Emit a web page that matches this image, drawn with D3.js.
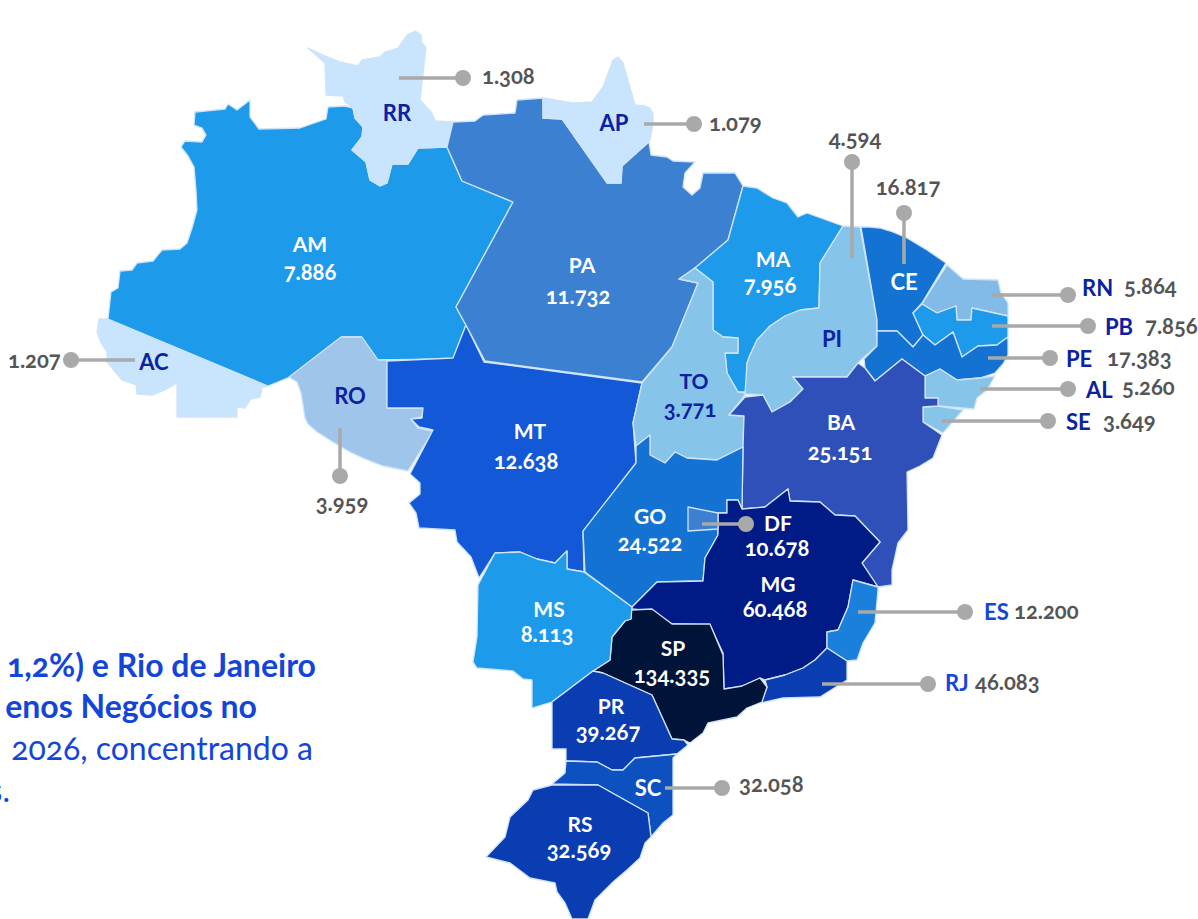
<!DOCTYPE html>
<html>
<head>
<meta charset="utf-8">
<script src="https://cdn.jsdelivr.net/npm/d3@7"></script>
<style>
  html, body { margin: 0; padding: 0; background: #fff; overflow: hidden; }
  text { font-family: Lato, "Open Sans", sans-serif; font-variant-numeric: oldstyle-nums; }
</style>
</head>
<body>
<svg id="chart" width="1198" height="919"></svg>
<script>
// values
const states = ['AC','AM','RR','RO','MT','PA','AP','MA','TO','PI','CE','RN','PB','PE','AL','SE','BA','GO','MG','DF','ES','RJ','SP','MS','PR','SC','RS'];
const values = ['1.207','7.886','1.308','3.959','12.638','11.732','1.079','7.956','3.771','4.594','16.817','5.864','7.856','17.383','5.260','3.649','25.151','24.522','60.468','10.678','12.200','46.083','134.335','8.113','39.267','32.058','32.569'];

// state fills, same order as states
const palette = ['#c8e5fd','#1e9aeb','#c8e5fd','#a0c5ea','#1358d6','#3c80d2','#c8e5fd','#1e9aeb','#87c4ea','#87c4ea','#1472d2','#83bbe8','#1e9aeb','#1472d2','#87c4ea','#87c4ea','#2e50b8','#1472d2','#001a86','#3c80d2','#1a80dc','#0a3db2','#001338','#1e9aeb','#0a3db2','#0d50c0','#0a3db2'];

// traced outlines, in picture units
const outlines = {
  AC: [[108,319],[99,319],[97,332],[101,343],[107,352],[107,362],[122,380],[136,385],[137,394],[153,395],[165,390],[177,383],[177,417],[237,417],[237,407],[245,408],[251,399],[260,397],[262,388],[268,386]],
  AM: [[108,319],[111,292],[118,288],[120,271],[132,270],[137,263],[153,261],[162,250],[180,249],[187,243],[192,228],[197,210],[196,190],[194,167],[188,156],[181,147],[185,141],[202,142],[206,135],[202,128],[194,125],[195,112],[225,109],[228,104],[237,110],[250,100],[250,117],[259,129],[300,128],[326,119],[328,107],[345,106],[353,108],[355,118],[363,127],[362,137],[352,150],[366,162],[370,180],[380,186],[387,183],[392,164],[408,164],[418,148],[447,147],[462,181],[513,202],[456,307],[466,325],[453,359],[377,360],[361,337],[342,337],[290,377],[268,386]],
  RR: [[308,48],[323,55],[340,62],[358,66],[362,60],[380,57],[385,52],[398,48],[407,35],[415,31],[421,35],[422,43],[426,48],[420,100],[432,113],[435,121],[453,122],[447,147],[418,148],[408,164],[392,164],[387,183],[380,186],[370,180],[366,162],[352,150],[362,137],[363,127],[355,118],[353,108],[345,102],[343,96],[326,95],[325,63]],
  RO: [[289,377],[341,337],[362,337],[378,360],[387,360],[387,408],[423,408],[422,417],[411,419],[418,428],[433,431],[408,471],[383,466],[365,459],[350,452],[333,442],[317,432],[308,424],[305,418],[303,405],[301,393],[297,382]],
  MT: [[387,361],[453,358],[466,325],[484,362],[642,383],[633,423],[636,463],[583,532],[584,572],[567,569],[567,551],[555,563],[537,559],[520,552],[495,553],[479,578],[471,557],[457,542],[455,530],[419,528],[416,513],[409,503],[420,494],[420,483],[410,474],[433,430],[419,427],[411,419],[422,418],[423,408],[387,408]],
  PA: [[453,122],[475,121],[483,115],[515,113],[517,100],[543,98],[543,118],[562,119],[607,183],[621,183],[622,166],[649,142],[651,155],[667,157],[673,161],[695,162],[685,173],[683,187],[692,195],[700,188],[703,173],[735,173],[743,186],[728,240],[695,268],[679,279],[698,283],[672,347],[642,382],[485,361],[467,327],[456,307],[513,202],[462,181],[447,147]],
  AP: [[543,98],[573,103],[592,102],[603,87],[613,60],[618,57],[623,63],[635,105],[645,106],[650,108],[653,114],[653,124],[650,140],[622,166],[621,183],[607,183],[562,119],[543,118]],
  MA: [[743,186],[757,188],[773,198],[787,203],[798,217],[807,213],[843,226],[820,263],[819,308],[800,310],[785,316],[770,326],[757,340],[750,355],[747,363],[747,392],[738,392],[727,373],[725,353],[738,353],[738,338],[723,337],[713,330],[713,282],[695,268],[728,240]],
  TO: [[695,268],[713,282],[713,330],[723,337],[738,338],[738,353],[725,353],[727,373],[738,392],[747,393],[745,395],[729,415],[744,416],[743,447],[717,460],[687,458],[675,452],[665,463],[650,455],[650,435],[636,446],[633,423],[642,383],[672,347],[698,283],[679,279]],
  PI: [[843,226],[860,227],[877,320],[877,346],[863,358],[858,363],[847,377],[793,377],[803,389],[790,402],[772,412],[763,395],[745,394],[747,363],[750,355],[757,340],[770,326],[785,316],[800,310],[819,308],[820,263]],
  CE: [[861,227],[870,227],[880,228],[893,232],[907,238],[927,250],[946,263],[922,303],[913,313],[923,335],[913,347],[897,331],[877,331],[877,320]],
  RN: [[947,265],[963,279],[998,280],[1001,293],[1008,303],[1008,316],[972,308],[971,320],[957,320],[956,306],[937,313],[922,304]],
  PB: [[922,304],[937,313],[956,306],[957,320],[971,320],[972,308],[1008,316],[1008,337],[997,345],[978,346],[962,357],[953,332],[935,345],[923,335],[913,313]],
  PE: [[877,331],[897,331],[913,347],[923,335],[935,345],[953,332],[962,357],[978,346],[997,345],[1008,337],[1008,355],[1003,364],[995,373],[980,378],[957,380],[940,369],[925,376],[902,359],[875,381],[865,368],[864,359],[877,346]],
  AL: [[925,376],[940,369],[957,380],[980,378],[995,376],[987,390],[977,398],[974,409],[938,406],[938,398],[925,398]],
  SE: [[923,407],[938,406],[963,410],[943,433],[923,422]],
  BA: [[729,415],[745,397],[763,395],[772,412],[790,402],[803,389],[793,377],[847,377],[858,363],[865,368],[875,381],[902,359],[925,376],[925,398],[938,398],[938,406],[923,407],[923,422],[942,435],[933,458],[920,466],[907,472],[908,530],[898,543],[892,570],[892,585],[878,587],[862,563],[880,542],[855,516],[835,515],[820,502],[790,501],[788,489],[765,507],[742,509],[743,447],[744,416]],
  GO: [[636,463],[636,446],[650,435],[650,455],[665,463],[675,452],[687,458],[717,460],[743,447],[742,509],[738,500],[727,500],[727,513],[718,513],[718,535],[705,558],[703,581],[657,582],[632,607],[585,572],[583,531]],
  MG: [[632,607],[657,582],[703,581],[705,558],[718,535],[718,513],[727,513],[727,500],[738,500],[742,509],[765,507],[788,489],[790,501],[820,502],[835,515],[855,516],[880,542],[862,563],[878,587],[853,580],[848,607],[838,630],[827,632],[827,648],[815,660],[803,668],[785,675],[765,680],[760,678],[740,687],[724,689],[723,653],[710,625],[672,624],[652,611],[632,609]],
  DF: [[688,507],[718,513],[718,529],[688,531]],
  ES: [[853,580],[878,587],[878,590],[875,623],[863,643],[857,660],[847,661],[827,648],[827,632],[838,630],[848,607]],
  RJ: [[827,648],[847,661],[847,680],[820,697],[783,698],[761,703],[767,687],[765,680],[785,675],[803,668],[815,660]],
  SP: [[631,610],[652,609],[672,624],[710,624],[723,655],[724,689],[742,686],[760,678],[767,687],[762,702],[747,708],[737,717],[708,723],[703,733],[690,743],[684,740],[672,739],[652,695],[603,673],[593,671],[610,660],[612,637],[625,621],[631,619]],
  MS: [[495,553],[520,552],[537,559],[555,563],[567,551],[567,569],[584,572],[632,607],[631,619],[625,621],[612,637],[610,660],[593,671],[552,702],[532,708],[532,680],[523,679],[513,671],[477,668],[473,662],[477,637],[478,585]],
  PR: [[593,671],[603,673],[652,695],[672,739],[684,740],[688,745],[677,754],[635,758],[623,770],[612,770],[597,762],[566,761],[566,749],[552,749],[552,702]],
  SC: [[566,761],[597,762],[612,770],[623,770],[635,758],[677,754],[673,758],[673,815],[663,823],[651,837],[648,813],[598,785],[552,784],[565,773]],
  RS: [[533,790],[552,785],[598,785],[648,813],[651,837],[645,843],[640,858],[627,870],[613,882],[595,900],[588,919],[572,919],[565,903],[557,892],[555,883],[530,878],[510,863],[486,857],[505,837],[510,817],[528,800]]
};

const noteLines = ['1,2%) e Rio de Janeiro', 'enos Negócios no', '2026, concentrando a', 's.'];

// label spots and leaders: code x, code y, value x, value y
const inside = {
  AM:[310,245,310,272], PA:[582,266,578,296], MA:[773,260,770,285], TO:[694,382,690,409], BA:[841,423,840,452],
  MT:[530,432,526,461], GO:[650,517,650,543], MS:[549,610,547,634], MG:[778,585,775,609], SP:[673,649,672,675],
  PR:[611,707,608,732], RS:[580,825,579,850], DF:[778,524,777,548]
};
const nameOnly = { RR:[397,113], AP:[614,123], AC:[154,362], RO:[350,396], PI:[832,339], CE:[904,282], SC:[648,788] };
const darkLabels = ['RR','AP','AC','RO','PI','TO'];
const leaders = [
  {x1:399,y1:78,x2:463,y2:78,id:'RR',tx:482,ty:76},
  {x1:644,y1:124,x2:694,y2:124,id:'AP',tx:709,ty:123},
  {x1:852,y1:258,x2:852,y2:162,id:'PI',tx:855,ty:138,mid:true},
  {x1:904,y1:264,x2:904,y2:213,id:'CE',tx:908,ty:187,mid:true},
  {x1:992,y1:295,x2:1068,y2:295,id:'RN',tx:1124,ty:286,side:1082,sy:288},
  {x1:992,y1:326,x2:1088,y2:326,id:'PB',tx:1145,ty:326,side:1105,sy:327},
  {x1:988,y1:358,x2:1050,y2:358,id:'PE',tx:1107,ty:358,side:1066,sy:359},
  {x1:980,y1:389,x2:1068,y2:389,id:'AL',tx:1122,ty:387,side:1086,sy:390},
  {x1:942,y1:421,x2:1048,y2:421,id:'SE',tx:1103,ty:421,side:1066,sy:422},
  {x1:858,y1:612,x2:965,y2:612,id:'ES',tx:1014,ty:611,side:984,sy:612,bright:true},
  {x1:822,y1:684,x2:928,y2:684,id:'RJ',tx:975,ty:682,side:945,sy:683,bright:true},
  {x1:665,y1:788,x2:722,y2:788,id:'SC',tx:739,ty:784},
  {x1:135,y1:360,x2:71,y2:360,id:'AC',tx:8,ty:360},
  {x1:340,y1:428,x2:340,y2:476,id:'RO',tx:342,ty:503,mid:true},
  {x1:702,y1:524,x2:746,y2:524,id:'DF',noValue:true}
];

const svg = d3.select('#chart');
const colour = d3.scaleOrdinal().domain(states).range(palette);
const valueOf = d3.scaleOrdinal().domain(states).range(values);

// the outlines are already in picture units, so the projection is flat
const path = d3.geoPath(d3.geoIdentity());
const features = states.map(id => ({
  type: 'Feature',
  id: id,
  geometry: { type: 'Polygon', coordinates: [outlines[id].concat([outlines[id][0]])] }
}));

svg.append('g').selectAll('path')
  .data(features)
  .join('path')
  .attr('d', path)
  .attr('fill', d => colour(d.id))
  .attr('stroke', '#cfe4f8')
  .attr('stroke-width', 1.3)
  .attr('stroke-linejoin', 'round');

// grey leaders
const lead = svg.append('g');
lead.selectAll('line').data(leaders).join('line')
  .attr('x1', d => d.x1).attr('y1', d => d.y1)
  .attr('x2', d => d.x2).attr('y2', d => d.y2)
  .attr('stroke', '#a9a9a9').attr('stroke-width', 3.5);
lead.selectAll('circle').data(leaders).join('circle')
  .attr('cx', d => d.x2).attr('cy', d => d.y2).attr('r', 8)
  .attr('fill', '#a9a9a9');

// values next to the leaders
svg.append('g').selectAll('text')
  .data(leaders.filter(d => !d.noValue))
  .join('text')
  .attr('x', d => d.tx).attr('y', d => d.ty)
  .attr('dy', '0.35em')
  .attr('text-anchor', d => d.mid ? 'middle' : 'start')
  .attr('font-size', 22).attr('font-weight', 700).attr('fill', '#555')
  .text(d => valueOf(d.id));

// state codes beside the leaders
svg.append('g').selectAll('text')
  .data(leaders.filter(d => d.side))
  .join('text')
  .attr('x', d => d.side).attr('y', d => d.sy)
  .attr('dy', '0.35em')
  .attr('font-size', 22).attr('font-weight', 700)
  .attr('fill', d => d.bright ? '#1346d8' : '#0a22a0')
  .text(d => d.id);

// code and value pairs inside the states
const pairs = svg.append('g').selectAll('g')
  .data(Object.keys(inside))
  .join('g')
  .attr('text-anchor', 'middle')
  .attr('font-weight', 700)
  .attr('fill', d => darkLabels.includes(d) ? '#0a22a0' : '#fff');
pairs.append('text')
  .attr('x', d => inside[d][0]).attr('y', d => inside[d][1])
  .attr('dy', '0.35em').attr('font-size', 21)
  .text(d => d);
pairs.append('text')
  .attr('x', d => inside[d][2]).attr('y', d => inside[d][3])
  .attr('dy', '0.35em').attr('font-size', 22)
  .text(d => valueOf(d));

svg.append('g').selectAll('text')
  .data(Object.keys(nameOnly))
  .join('text')
  .attr('x', d => nameOnly[d][0]).attr('y', d => nameOnly[d][1])
  .attr('dy', '0.35em')
  .attr('text-anchor', 'middle')
  .attr('font-size', 22).attr('font-weight', 700)
  .attr('fill', d => darkLabels.includes(d) ? '#0a22a0' : '#fff')
  .text(d => d);

// clipped paragraph at the lower left
const noteEnds = [316, 257, 313, 10];
const noteBase = [677, 718, 760, 802];
svg.append('g').selectAll('text')
  .data(noteLines)
  .join('text')
  .attr('x', (d, i) => noteEnds[i])
  .attr('y', (d, i) => noteBase[i])
  .attr('text-anchor', 'end')
  .attr('font-size', 32)
  .attr('font-weight', (d, i) => i < 2 ? 700 : 400)
  .attr('fill', '#1346d8')
  .text(d => d);
</script>
</body>
</html>
